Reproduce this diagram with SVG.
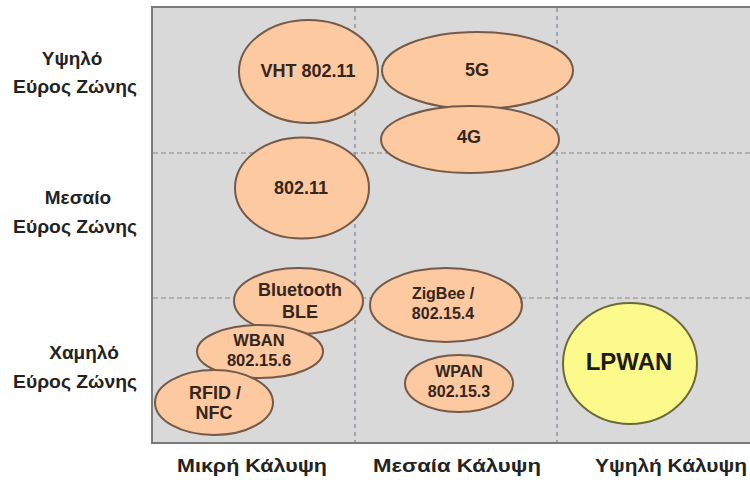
<svg xmlns="http://www.w3.org/2000/svg" width="750" height="480" viewBox="0 0 750 480">
  <style>
    .axis { font-family: "Liberation Sans", Arial, sans-serif; font-weight: bold; font-size: 19px; fill: #232323; text-anchor: middle; }
    .lbl { font-family: "Liberation Sans", Arial, sans-serif; font-weight: bold; fill: #36251a; text-anchor: middle; }
    .tech { fill: #fcc9a1; stroke: #735a49; stroke-width: 2; }
    .lp { fill: #fdfa8c; stroke: #6b6a3c; stroke-width: 2; }
    .hgrid { stroke: #8a8a8a; stroke-width: 1.2; stroke-dasharray: 5 3; fill: none; }
    .vgrid { stroke: #7c8598; stroke-width: 1.2; stroke-dasharray: 4 4; fill: none; }
  </style>

  <rect width="750" height="480" fill="#ffffff"/>

  <!-- plot area -->
  <g id="plot">
    <rect x="152" y="7" width="620" height="436" fill="#d9d9d9" stroke="#7a7a7a" stroke-width="2"/>
  </g>

  <!-- quadrant grid -->
  <g id="grid">
    <line class="vgrid" x1="355" y1="8" x2="355" y2="442"/>
    <line class="vgrid" x1="557" y1="8" x2="557" y2="442"/>
    <line class="hgrid" x1="153" y1="153" x2="750" y2="153"/>
    <line class="hgrid" x1="153" y1="298" x2="750" y2="298"/>
  </g>

  <!-- no connectors in this chart -->
  <g id="connectors"/>

  <!-- vertical axis labels -->
  <g id="y-axis">
    <text class="axis" x="72" y="65">Υψηλό</text>
    <text class="axis" x="75" y="93" textLength="124" lengthAdjust="spacingAndGlyphs">Εύρος Ζώνης</text>
    <text class="axis" x="78" y="204">Μεσαίο</text>
    <text class="axis" x="75" y="233" textLength="124" lengthAdjust="spacingAndGlyphs">Εύρος Ζώνης</text>
    <text class="axis" x="84" y="359">Χαμηλό</text>
    <text class="axis" x="75" y="388" textLength="124" lengthAdjust="spacingAndGlyphs">Εύρος Ζώνης</text>
  </g>

  <!-- horizontal axis labels -->
  <g id="x-axis">
    <text class="axis" x="252" y="472" textLength="150" lengthAdjust="spacingAndGlyphs">Μικρή Κάλυψη</text>
    <text class="axis" x="457" y="472" textLength="168" lengthAdjust="spacingAndGlyphs">Μεσαία Κάλυψη</text>
    <text class="axis" x="671" y="472" textLength="152" lengthAdjust="spacingAndGlyphs">Υψηλή Κάλυψη</text>
  </g>

  <g id="vht">
    <ellipse class="tech" cx="308.5" cy="71.5" rx="69.5" ry="51.5"/>
    <text class="lbl" x="308" y="77" font-size="18">VHT 802.11</text>
  </g>

  <g id="g5">
    <ellipse class="tech" cx="477.5" cy="70.5" rx="95.5" ry="38.5"/>
    <text class="lbl" x="477" y="76" font-size="18">5G</text>
  </g>

  <g id="g4">
    <ellipse class="tech" cx="470" cy="139.5" rx="89" ry="33.5"/>
    <text class="lbl" x="469" y="143" font-size="18">4G</text>
  </g>

  <g id="wifi">
    <ellipse class="tech" cx="302" cy="188" rx="67" ry="50.5"/>
    <text class="lbl" x="301" y="194" font-size="18">802.11</text>
  </g>

  <g id="bluetooth">
    <ellipse class="tech" cx="298.5" cy="301" rx="64.5" ry="33"/>
    <text class="lbl" x="300" y="296" font-size="18">Bluetooth</text>
    <text class="lbl" x="300" y="318" font-size="18">BLE</text>
  </g>

  <g id="wban">
    <ellipse class="tech" cx="260" cy="351.5" rx="63" ry="26.5"/>
    <text class="lbl" x="259" y="346" font-size="16.5">WBAN</text>
    <text class="lbl" x="259" y="366" font-size="16.5">802.15.6</text>
  </g>

  <g id="rfid">
    <ellipse class="tech" cx="214" cy="402.5" rx="59" ry="32.5"/>
    <text class="lbl" x="215" y="399" font-size="18">RFID /</text>
    <text class="lbl" x="214" y="419" font-size="18">NFC</text>
  </g>

  <g id="zigbee">
    <ellipse class="tech" cx="446" cy="305" rx="76" ry="37"/>
    <text class="lbl" x="443" y="299" font-size="16">ZigBee /</text>
    <text class="lbl" x="443" y="319" font-size="16">802.15.4</text>
  </g>

  <g id="wpan">
    <ellipse class="tech" cx="459" cy="383.5" rx="54" ry="28.5"/>
    <text class="lbl" x="459" y="377" font-size="16">WPAN</text>
    <text class="lbl" x="459" y="397" font-size="16">802.15.3</text>
  </g>

  <g id="lpwan">
    <ellipse class="lp" cx="630" cy="363.5" rx="67" ry="60.5"/>
    <text class="lbl" x="629" y="370" font-size="24" style="fill:#1c1c14">LPWAN</text>
  </g>
</svg>
